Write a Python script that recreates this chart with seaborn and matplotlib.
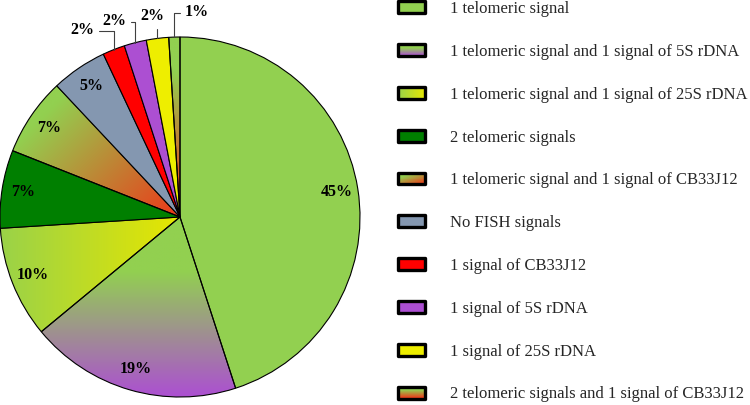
import numpy as np
import matplotlib
matplotlib.use("Agg")
import matplotlib.pyplot as plt
import matplotlib.colors as mcolors
import seaborn as sns
from matplotlib.patches import Rectangle
from matplotlib.legend_handler import HandlerBase

# ---------------- data ----------------
categories = [
    "1 telomeric signal",
    "1 telomeric signal and 1 signal of 5S rDNA",
    "1 telomeric signal and 1 signal of 25S rDNA",
    "2 telomeric signals",
    "1 telomeric signal and 1 signal of CB33J12",
    "No FISH signals",
    "1 signal of CB33J12",
    "1 signal of 5S rDNA",
    "1 signal of 25S rDNA",
    "2 telomeric signals and 1 signal of CB33J12",
]
values = [45, 19, 10, 7, 7, 5, 2, 2, 2, 1]
pct_labels = ["45%", "19%", "10%", "7%", "7%", "5%", "2%", "2%", "2%", "1%"]

# ---------------- styles ----------------
GREEN = "#92D050"
start_colors = [GREEN, GREEN, GREEN, "#007F00", GREEN, "#8497B0",
                "#FF0000", "#AC4FD2", "#EEEE00", GREEN]
end_colors = [None, "#AC4FD2", "#E6E600", None, "#E8401C", None,
              None, None, None, "#E8401C"]
grad_dirs = [None, (0, -1), (1, 0), None, (1, -1), None,
             None, None, None, (0, -1)]
grad_stops = [None, (0.3, 1.0), (-0.1, 1.0), None, (0.2, 0.95), None,
              None, None, None, (0.2, 0.9)]
# outside label positions (data coords) for the small slices
outside_pos = {6: (-0.54, 1.04), 7: (-0.365, 1.09), 8: (-0.155, 1.115), 9: (0.095, 1.14)}
outside_relpos = {6: (1.0, 0.45), 7: (1.0, 0.45), 8: (1.0, 0.45), 9: (0.0, 0.45)}

sns.set_theme(style="white")
plt.rcParams["font.family"] = ["Liberation Serif", "DejaVu Serif"]

W, H = 750, 405
fig = plt.figure(figsize=(W / 100, H / 100), dpi=100)
fig.patch.set_facecolor("white")

cx, cy, R = 180, 217, 180
ax = fig.add_axes([(cx - R) / W, (H - cy - R) / H, 2 * R / W, 2 * R / H])
ax.set_xlim(-1, 1)
ax.set_ylim(-1, 1)
ax.set_aspect("equal")
ax.axis("off")

wedges, _ = ax.pie(values, startangle=90, counterclock=False,
                   colors=start_colors, radius=1.0,
                   wedgeprops=dict(edgecolor="black", linewidth=0.8))


def grad_rgb(t, c1, c2):
    a = np.array(mcolors.to_rgb(c1))
    b = np.array(mcolors.to_rgb(c2))
    return a * (1 - t[..., None]) + b * t[..., None]


def grad_t(X, Y, d, stops):
    d = np.array(d, float)
    d /= np.linalg.norm(d)
    p = X * d[0] + Y * d[1]
    p = (p - p.min()) / (p.max() - p.min() + 1e-12)
    s0, s1 = stops
    return np.clip((p - s0) / (s1 - s0), 0, 1)


for i, w in enumerate(wedges):
    if end_colors[i] is None:
        continue
    ext = w.get_path().get_extents()
    x0, y0, x1, y1 = ext.x0, ext.y0, ext.x1, ext.y1
    n = 200
    X, Y = np.meshgrid(np.linspace(x0, x1, n), np.linspace(y0, y1, n))
    t = grad_t(X, Y, grad_dirs[i], grad_stops[i])
    img = grad_rgb(t, start_colors[i], end_colors[i])
    im = ax.imshow(img, extent=(x0, x1, y0, y1), origin="lower",
                   interpolation="bilinear", zorder=0.5, aspect="auto")
    im.set_clip_path(w)
    w.set_facecolor("none")

ax.set_xlim(-1, 1)
ax.set_ylim(-1, 1)

label_font = dict(fontsize=11.5, fontweight="bold", color="black",
                  family=["Liberation Serif", "DejaVu Serif"])
for i, w in enumerate(wedges):
    mid = np.deg2rad((w.theta1 + w.theta2) / 2)
    if i in outside_pos:
        ex, ey = np.cos(mid), np.sin(mid)
        ax.annotate(pct_labels[i], xy=(ex, ey), xytext=outside_pos[i],
                    ha="center", va="center", annotation_clip=False,
                    arrowprops=dict(arrowstyle="-", color="#404040", lw=0.8,
                                    shrinkA=1, shrinkB=0,
                                    relpos=outside_relpos[i],
                                    connectionstyle="angle,angleA=0,angleB=90,rad=0"),
                    **label_font)
    else:
        r = 0.88
        ax.text(r * np.cos(mid), r * np.sin(mid), pct_labels[i],
                ha="center", va="center", **label_font)


# ---------------- legend ----------------
class GradHandle:
    def __init__(self, c1, c2, d, stops):
        self.c1, self.c2, self.d, self.stops = c1, c2, d, stops


class GradHandler(HandlerBase):
    def create_artists(self, legend, h, xd, yd, width, height, fontsize, trans):
        arts = []
        nx, ny = 28, 12
        xs = np.linspace(0, 1, nx)
        ys = np.linspace(0, 1, ny)
        X, Y = np.meshgrid(xs, ys)
        if h.c2 is None:
            arts.append(Rectangle((-xd, -yd), width, height, facecolor=h.c1,
                                  edgecolor="none", transform=trans))
        else:
            t = grad_t(X, Y, h.d, h.stops)
            cols = grad_rgb(t, h.c1, h.c2)
            dw, dh = width / nx, height / ny
            for j in range(ny):
                for k in range(nx):
                    arts.append(Rectangle((-xd + k * dw, -yd + j * dh), dw * 1.05, dh * 1.05,
                                          facecolor=cols[j, k], edgecolor="none",
                                          lw=0, transform=trans))
        arts.append(Rectangle((-xd, -yd), width, height, facecolor="none",
                              edgecolor="black", lw=2.4, transform=trans,
                              joinstyle="round"))
        return arts


handles = [GradHandle(start_colors[i], end_colors[i], grad_dirs[i],
                      grad_stops[i] if grad_stops[i] else (0, 1))
           for i in range(len(categories))]
fig.legend(handles, categories, handler_map={GradHandle: GradHandler()},
           loc="upper left", bbox_to_anchor=(398 / W, 1.0 - 1 / H),
           frameon=False, handlelength=1.65, handleheight=0.72,
           handletextpad=1.45, labelspacing=1.61, borderpad=0, borderaxespad=0,
           prop={"family": ["Liberation Serif", "DejaVu Serif"], "size": 12})

fig.savefig("out.png", dpi=100, facecolor="white")
